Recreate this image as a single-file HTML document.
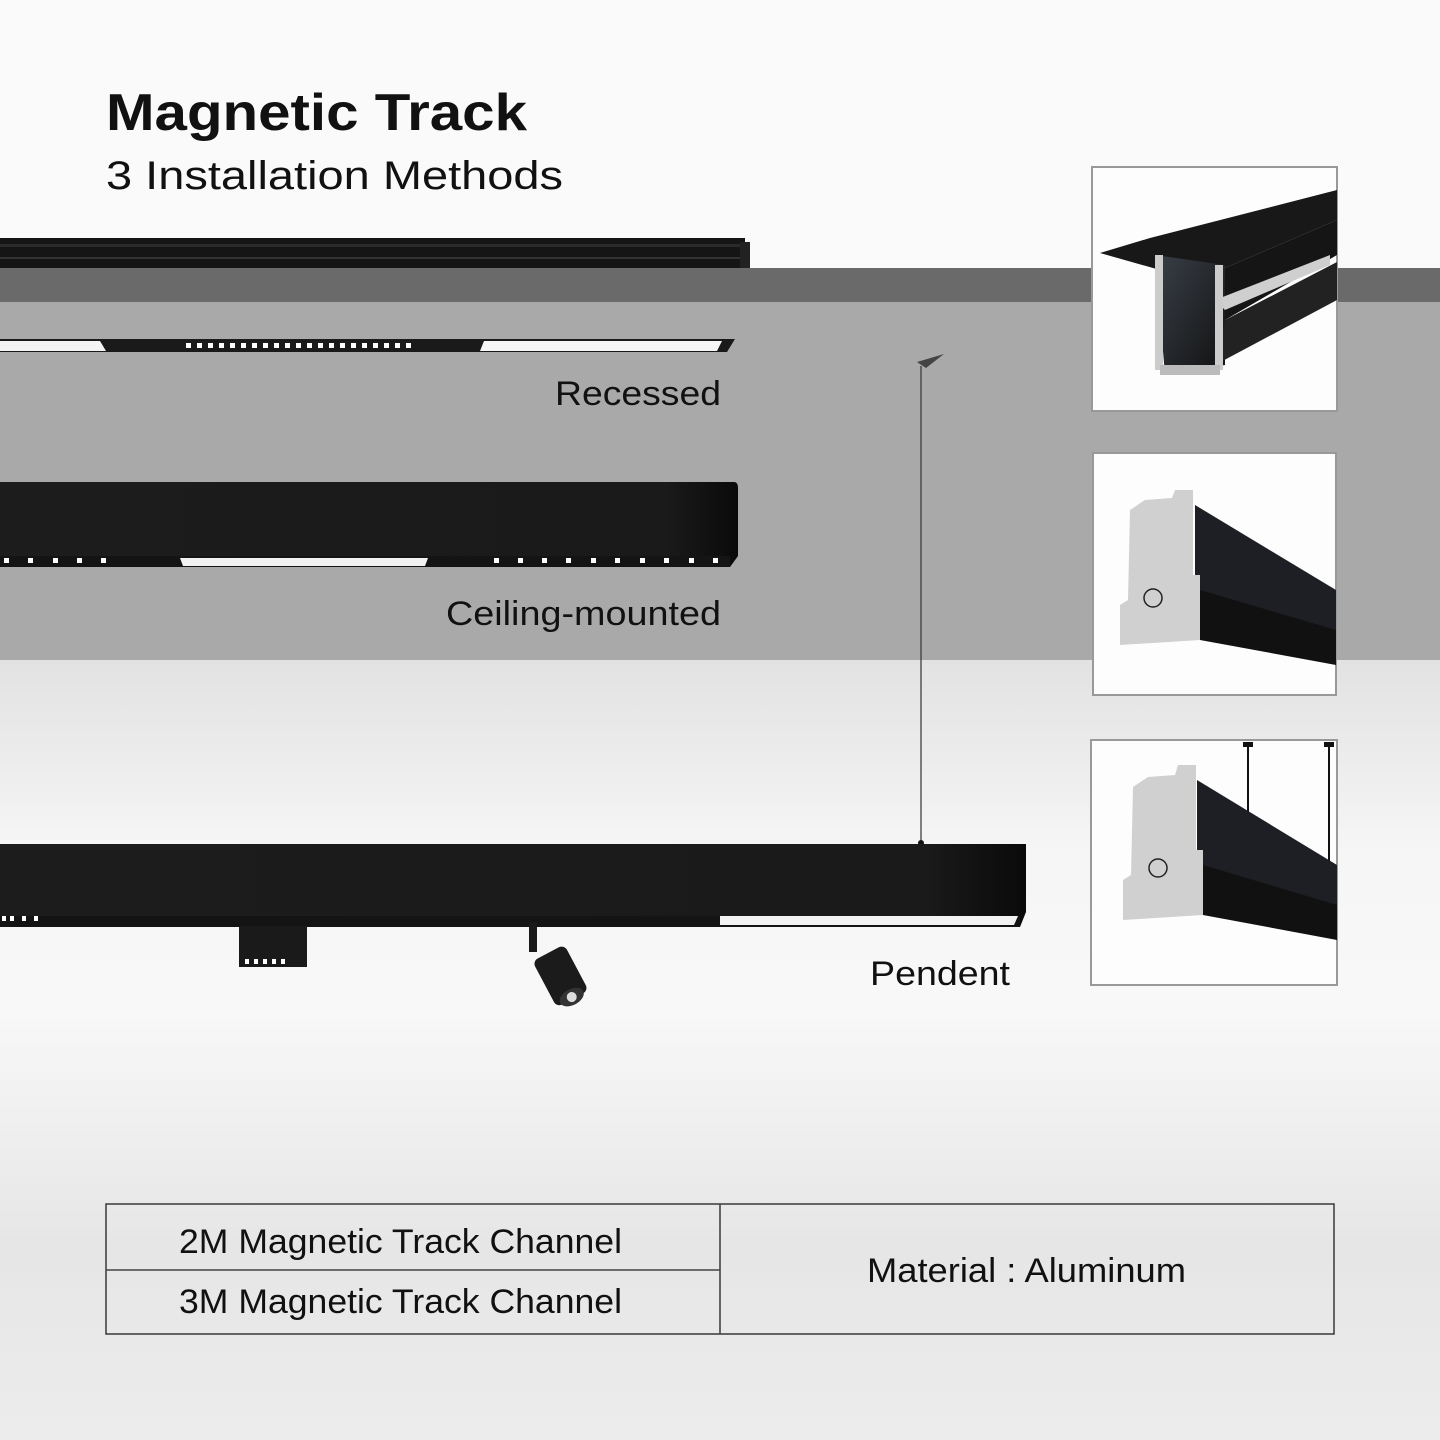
<!DOCTYPE html>
<html><head><meta charset="utf-8"><style>
html,body{margin:0;padding:0;width:1440px;height:1440px;overflow:hidden;background:#fafafa}
svg{display:block}
text{font-family:"Liberation Sans","DejaVu Sans",sans-serif;fill:#111}
</style></head><body>
<svg width="1440" height="1440" viewBox="0 0 1440 1440" xmlns="http://www.w3.org/2000/svg">
<defs>
<linearGradient id="bot" x1="0" y1="0" x2="0" y2="1">
<stop offset="0" stop-color="#e2e2e2"/>
<stop offset="0.25" stop-color="#f6f6f6"/>
<stop offset="0.45" stop-color="#f8f8f8"/>
<stop offset="0.75" stop-color="#e6e6e6"/>
<stop offset="1" stop-color="#ececec"/>
</linearGradient>
<linearGradient id="blk" x1="0" y1="0" x2="1" y2="0">
<stop offset="0" stop-color="#1c1c1c"/><stop offset="0.9" stop-color="#1a1a1a"/><stop offset="1" stop-color="#0a0a0a"/>
</linearGradient>
<linearGradient id="prof" x1="0" y1="0" x2="1" y2="1">
<stop offset="0" stop-color="#3a4048"/><stop offset="1" stop-color="#111"/>
</linearGradient>
</defs>
<rect x="0" y="0" width="1440" height="268" fill="#fafafa"/>
<rect x="0" y="268" width="1440" height="34" fill="#6a6a6a"/>
<rect x="0" y="302" width="1440" height="358" fill="#a9a9a9"/>
<rect x="0" y="660" width="1440" height="780" fill="url(#bot)"/>

<!-- top track -->
<rect x="0" y="238" width="745" height="30" fill="#151515"/>
<rect x="0" y="244" width="740" height="3" fill="#2a2a2a"/>
<rect x="0" y="257" width="740" height="2" fill="#333"/>
<rect x="740" y="242" width="10" height="26" fill="#222"/>

<!-- recessed strip -->
<polygon points="0,339 735,339 727,352 0,352" fill="#1a1a1a"/>
<polygon points="0,341 100,341 106,351 0,351" fill="#f4f4f4"/>
<polygon points="484,341 722,341 717,351 480,351" fill="#f6f6f6"/>
<g fill="#fff">
<rect x="186" y="343" width="5" height="5"/><rect x="197" y="343" width="5" height="5"/><rect x="208" y="343" width="5" height="5"/><rect x="219" y="343" width="5" height="5"/><rect x="230" y="343" width="5" height="5"/><rect x="241" y="343" width="5" height="5"/><rect x="252" y="343" width="5" height="5"/><rect x="263" y="343" width="5" height="5"/><rect x="274" y="343" width="5" height="5"/><rect x="285" y="343" width="5" height="5"/><rect x="296" y="343" width="5" height="5"/><rect x="307" y="343" width="5" height="5"/><rect x="318" y="343" width="5" height="5"/><rect x="329" y="343" width="5" height="5"/><rect x="340" y="343" width="5" height="5"/><rect x="351" y="343" width="5" height="5"/><rect x="362" y="343" width="5" height="5"/><rect x="373" y="343" width="5" height="5"/><rect x="384" y="343" width="5" height="5"/><rect x="395" y="343" width="5" height="5"/><rect x="406" y="343" width="5" height="5"/>
</g>
<text x="721" y="405" font-size="34" text-anchor="end" textLength="166" lengthAdjust="spacingAndGlyphs">Recessed</text>

<!-- ceiling mounted -->
<path d="M0,482 H734 Q738,482 738,488 V556 L730,567 H0 Z" fill="url(#blk)"/>
<rect x="0" y="556" width="730" height="11" fill="#141414"/>
<polygon points="180,558 428,558 425,566 183,566" fill="#f2f2f2"/>
<g fill="#fff">
<rect x="4" y="558" width="5" height="5"/><rect x="28" y="558" width="5" height="5"/><rect x="53" y="558" width="5" height="5"/><rect x="77" y="558" width="5" height="5"/><rect x="101" y="558" width="5" height="5"/>
<rect x="494" y="558" width="5" height="5"/><rect x="518" y="558" width="5" height="5"/><rect x="542" y="558" width="5" height="5"/><rect x="566" y="558" width="5" height="5"/><rect x="591" y="558" width="5" height="5"/><rect x="615" y="558" width="5" height="5"/><rect x="640" y="558" width="5" height="5"/><rect x="664" y="558" width="5" height="5"/><rect x="689" y="558" width="5" height="5"/><rect x="713" y="558" width="5" height="5"/>
</g>
<text x="721" y="625" font-size="34" text-anchor="end" textLength="275" lengthAdjust="spacingAndGlyphs">Ceiling-mounted</text>

<!-- pendant cable -->
<line x1="921" y1="366" x2="921" y2="842" stroke="#333" stroke-width="1.2"/>
<polygon points="917,362 944,354 926,368" fill="#444"/>
<circle cx="921" cy="843" r="3" fill="#111"/>

<!-- pendant bar -->
<path d="M0,844 H1026 V912 L1020,927 H0 Z" fill="url(#blk)"/>
<rect x="0" y="916" width="1020" height="11" fill="#141414"/>
<polygon points="720,916 1018,916 1014,925 720,925" fill="#f3f3f3"/>
<g fill="#fff"><rect x="2" y="916" width="4" height="5"/><rect x="10" y="916" width="4" height="5"/><rect x="22" y="916" width="4" height="5"/><rect x="34" y="916" width="4" height="5"/></g>
<!-- spot module -->
<rect x="239" y="926" width="68" height="41" fill="#1a1a1a"/>
<g fill="#fff"><rect x="245" y="959" width="4" height="5"/><rect x="254" y="959" width="4" height="5"/><rect x="263" y="959" width="4" height="5"/><rect x="272" y="959" width="4" height="5"/><rect x="281" y="959" width="4" height="5"/></g>
<!-- spotlight -->
<rect x="529" y="922" width="8" height="30" fill="#1a1a1a"/>
<g transform="rotate(-28 560 975)">
<rect x="542" y="950" width="36" height="52" rx="6" fill="#1b1b1b"/>
<ellipse cx="560" cy="1000" rx="13" ry="8" fill="#333"/>
<circle cx="560" cy="1000" r="5" fill="#ddd"/>
</g>
<text x="1010" y="985" font-size="34" text-anchor="end" textLength="140" lengthAdjust="spacingAndGlyphs">Pendent</text>

<!-- title -->
<text x="106" y="130" font-size="52" font-weight="bold" textLength="421" lengthAdjust="spacingAndGlyphs">Magnetic Track</text>
<text x="106" y="189" font-size="40" textLength="457" lengthAdjust="spacingAndGlyphs">3 Installation Methods</text>

<!-- box 1 -->
<rect x="1092" y="167" width="245" height="244" fill="#fdfdfd" stroke="#999" stroke-width="2"/>
<polygon points="1100,253 1150,238 1337,190 1337,220 1225,268 1160,270" fill="#181818"/>
<polygon points="1155,255 1225,265 1225,365 1165,375" fill="url(#prof)"/>
<polygon points="1225,268 1337,220 1337,255 1225,320" fill="#151515"/>
<polygon points="1215,300 1330,255 1330,265 1225,310" fill="#cfcfcf"/>
<polygon points="1225,320 1337,262 1337,300 1215,365" fill="#222"/>
<rect x="1155" y="255" width="8" height="115" fill="#ccc"/>
<rect x="1215" y="265" width="8" height="105" fill="#ccc"/>
<rect x="1160" y="365" width="60" height="10" fill="#bbb"/>
<!-- box 2 -->
<rect x="1093" y="453" width="243" height="242" fill="#fdfdfd" stroke="#999" stroke-width="2"/>
<polygon points="1195,505 1336,590 1336,665 1195,595" fill="#1d1f24"/>
<polygon points="1200,590 1336,630 1336,665 1200,640" fill="#111"/>
<path d="M1130,510 L1145,500 L1172,498 L1175,490 L1193,490 L1193,575 L1200,575 L1200,640 L1120,645 L1120,605 L1128,600 Z" fill="#d0d0d0"/>
<circle cx="1153" cy="598" r="9" fill="none" stroke="#222" stroke-width="1.5"/>
<!-- box 3 -->
<rect x="1091" y="740" width="246" height="245" fill="#fdfdfd" stroke="#999" stroke-width="2"/>
<line x1="1248" y1="744" x2="1248" y2="820" stroke="#111" stroke-width="2"/>
<line x1="1329" y1="744" x2="1329" y2="880" stroke="#111" stroke-width="2"/>
<rect x="1243" y="742" width="10" height="5" fill="#111"/><rect x="1324" y="742" width="10" height="5" fill="#111"/>
<polygon points="1197,780 1337,865 1337,940 1197,870" fill="#1d1f24"/>
<polygon points="1203,865 1337,905 1337,940 1203,915" fill="#111"/>
<path d="M1133,787 L1148,777 L1175,775 L1178,765 L1196,765 L1196,850 L1203,850 L1203,915 L1123,920 L1123,880 L1131,875 Z" fill="#d0d0d0"/>
<circle cx="1158" cy="868" r="9" fill="none" stroke="#222" stroke-width="1.5"/>

<!-- table -->
<g stroke="#444" stroke-width="1.6" fill="none">
<rect x="106" y="1204" width="1228" height="130"/>
<line x1="720" y1="1204" x2="720" y2="1334"/>
<line x1="106" y1="1270" x2="720" y2="1270"/>
</g>
<text x="179" y="1253" font-size="34" textLength="443" lengthAdjust="spacingAndGlyphs">2M Magnetic Track Channel</text>
<text x="179" y="1313" font-size="34" textLength="443" lengthAdjust="spacingAndGlyphs">3M Magnetic Track Channel</text>
<text x="867" y="1282" font-size="34" textLength="319" lengthAdjust="spacingAndGlyphs">Material : Aluminum</text>
</svg>
</body></html>
